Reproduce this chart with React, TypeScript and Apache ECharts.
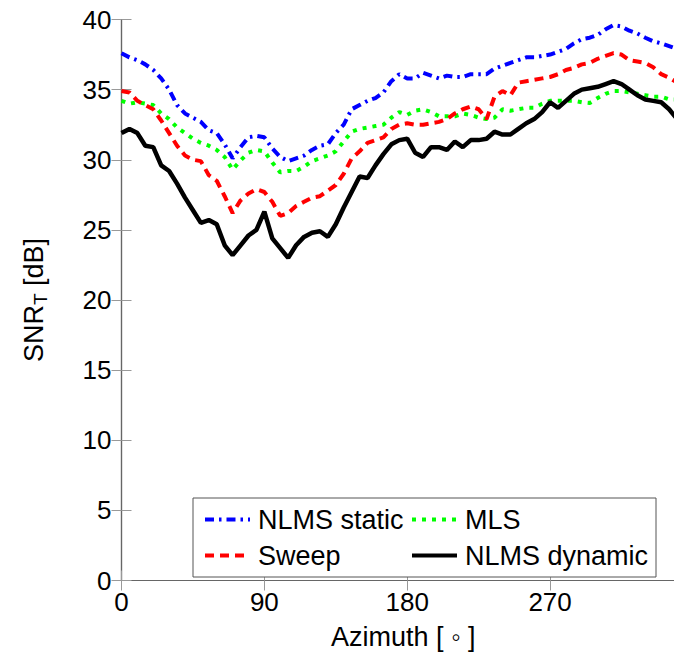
import React, { useEffect, useRef } from "react";
import * as echarts from "echarts";

const azimuth = [
  0, 5, 10, 15, 20, 25, 30, 35, 40, 45, 50, 55, 60, 65, 70, 75, 80, 85, 90, 95,
  100, 105, 110, 115, 120, 125, 130, 135, 140, 145, 150, 155, 160, 165, 170, 175,
  180, 185, 190, 195, 200, 205, 210, 215, 220, 225, 230, 235, 240, 245, 250, 255,
  260, 265, 270, 275, 280, 285, 290, 295, 300, 305, 310, 315, 320, 325, 330, 335,
  340, 345, 350, 355,
];

const xTickLabels = ["0", "90", "180", "270"];

const nlmsStatic = [
  37.6, 37.3, 37.1, 36.8, 36.4, 35.8, 35.0, 33.9, 33.3, 33.0,
  32.7, 32.1, 31.9, 31.1, 30.1, 30.9, 31.6, 31.7, 31.6, 30.8,
  30.2, 29.9, 30.1, 30.3, 30.7, 31.0, 31.1, 31.9, 32.5, 33.6,
  33.9, 34.2, 34.4, 34.8, 35.6, 36.1, 35.8, 35.8, 36.2, 36.0,
  35.8, 36.0, 35.9, 35.9, 36.1, 36.1, 36.1, 36.5, 36.7, 36.9,
  37.1, 37.3, 37.3, 37.4, 37.5, 37.7, 37.9, 38.3, 38.6, 38.7,
  38.9, 39.3, 39.6, 39.5, 39.2, 39.0, 38.7, 38.45, 38.3, 38.1,
  37.9, 37.8,
];

const mls = [
  34.2, 34.0, 34.1, 34.0, 33.9, 33.3, 32.9, 32.3, 31.9, 31.5,
  31.2, 31.0, 30.7, 30.2, 29.3, 29.95, 30.5, 30.7, 30.6, 29.8,
  29.1, 29.2, 29.2, 29.5, 29.9, 30.1, 30.3, 30.6, 31.3, 32.0,
  32.2, 32.3, 32.4, 32.5, 33.0, 33.4, 33.2, 33.5, 33.6, 33.4,
  33.1, 33.1, 33.1, 33.3, 33.2, 33.0, 32.9, 33.0, 33.6, 33.5,
  33.6, 33.7, 33.7, 34.0, 34.2, 34.2, 34.2, 34.2, 34.1, 34.05,
  34.4, 34.7, 34.9, 34.9, 34.8, 34.7, 34.6, 34.5, 34.5, 34.3,
  34.3, 34.2,
];

const sweep = [
  34.9, 34.8, 34.2, 33.9, 33.6, 32.8, 31.9, 31.0, 30.3, 30.0,
  29.9, 28.9, 28.5, 27.4, 26.2, 27.1, 27.6, 27.9, 27.7, 27.0,
  26.0, 26.2, 26.7, 27.0, 27.3, 27.4, 27.8, 28.2, 29.0, 30.1,
  30.6, 31.2, 31.4, 31.6, 32.2, 32.5, 32.6, 32.5, 32.5, 32.6,
  32.7, 32.9, 33.3, 33.6, 33.8, 33.6, 32.9, 34.5, 34.9, 34.6,
  35.5, 35.6, 35.7, 35.8, 35.9, 36.1, 36.4, 36.55, 36.8, 36.9,
  37.2, 37.4, 37.6, 37.5, 37.1, 37.0, 36.9, 36.6, 36.1, 35.85,
  35.5, 35.2,
];

const nlmsDynamic = [
  31.9, 32.2, 31.9, 31.0, 30.9, 29.6, 29.2, 28.3, 27.3, 26.4,
  25.5, 25.7, 25.4, 23.9, 23.2, 23.9, 24.6, 25.0, 26.3, 24.4,
  23.7, 23.0, 23.9, 24.5, 24.8, 24.9, 24.5, 25.4, 26.6, 27.7,
  28.8, 28.7, 29.6, 30.4, 31.1, 31.4, 31.5, 30.5, 30.2, 30.9,
  30.9, 30.7, 31.3, 30.9, 31.4, 31.4, 31.5, 32.0, 31.8, 31.8,
  32.2, 32.6, 32.9, 33.4, 34.1, 33.7, 34.2, 34.7, 35.0, 35.1,
  35.2, 35.4, 35.6, 35.4, 35.0, 34.6, 34.3, 34.2, 34.1, 33.6,
  32.9, 32.4,
];

const seriesNames = ["NLMS static", "MLS", "Sweep", "NLMS dynamic"];

export default function App() {
  const ref = useRef<HTMLDivElement>(null);

  useEffect(() => {
    if (!ref.current) return;
    const chart = echarts.init(ref.current, null, { renderer: "svg" });
    const font = "'Liberation Sans', Arial, Helvetica, sans-serif";
    const pair = (ys: number[]) => azimuth.map((x, i) => [x, ys[i]]);
    const axisLineStyle = { color: "#666", width: 1.2 };
    const tickStyle = { color: "#999", width: 1 };
    const labelStyle = { fontSize: 26, color: "#000", fontFamily: font };

    const legendBase = {
      orient: "vertical",
      top: 506,
      padding: 0,
      itemWidth: 45,
      itemHeight: 26,
      itemGap: 9,
      selectedMode: false,
      lineStyle: { width: 4 },
      itemStyle: { color: "rgba(0,0,0,0)", borderWidth: 0, opacity: 0 },
      textStyle: { fontSize: 27, color: "#000", fontFamily: font, lineHeight: 26, padding: [0, 0, 0, 3] },
    };

    chart.setOption({
      animation: false,
      backgroundColor: "#fff",
      textStyle: { fontFamily: font },
      grid: { left: 121.5, right: 15, top: 19.5, bottom: 80.5, containLabel: false },
      xAxis: [
        {
          type: "value",
          position: "bottom",
          min: 0,
          max: 355,
          interval: 90,
          name: "Azimuth [ \u25E6 ]",
          nameLocation: "middle",
          nameGap: 43,
          nameTextStyle: { ...labelStyle, fontSize: 27, lineHeight: 26 },
          axisLine: { show: true, lineStyle: axisLineStyle },
          axisTick: { show: true, inside: true, length: 10, lineStyle: tickStyle },
          axisLabel: {
            ...labelStyle,
            margin: 8,
            formatter: (v: number) => (xTickLabels.includes(String(v)) ? String(v) : ""),
          },
          splitLine: { show: false },
        },
        {
          type: "value",
          position: "top",
          min: 0,
          max: 355,
          interval: 90,
          axisLine: { show: true, lineStyle: axisLineStyle },
          axisTick: { show: true, inside: true, length: 10, lineStyle: tickStyle },
          axisLabel: { show: false },
          splitLine: { show: false },
        },
      ],
      yAxis: [
        {
          type: "value",
          position: "left",
          min: 0,
          max: 40,
          interval: 5,
          name: "{a|SNR}{b|T}{a| [dB]}",
          nameLocation: "middle",
          nameGap: 72,
          nameTextStyle: {
            rich: {
              a: { fontSize: 27, color: "#000", fontFamily: font, lineHeight: 32 },
              b: { fontSize: 19, color: "#000", fontFamily: font, lineHeight: 20, verticalAlign: "bottom" },
            },
          },
          axisLine: { show: true, lineStyle: axisLineStyle },
          axisTick: { show: true, inside: true, length: 10, lineStyle: tickStyle },
          axisLabel: { ...labelStyle, margin: 10 },
          splitLine: { show: false },
        },
        {
          type: "value",
          position: "right",
          min: 0,
          max: 40,
          interval: 5,
          axisLine: { show: true, lineStyle: axisLineStyle },
          axisTick: { show: true, inside: true, length: 10, lineStyle: tickStyle },
          axisLabel: { show: false },
          splitLine: { show: false },
        },
      ],
      legend: [
        { ...legendBase, left: 203, data: [seriesNames[0], seriesNames[2]] },
        { ...legendBase, left: 410, data: [seriesNames[1], seriesNames[3]] },
      ],
      graphic: [
        {
          type: "rect",
          z: 3,
          shape: { x: 193, y: 498, width: 463, height: 79 },
          style: { fill: "#fff", stroke: "#555", lineWidth: 1 },
        },
      ],
      series: [
        {
          name: seriesNames[0],
          type: "line",
          data: pair(nlmsStatic),
          symbol: "none",
          itemStyle: { color: "#0000ff" },
          lineStyle: { color: "#0000ff", width: 4, type: [9, 5, 2.5, 5] },
          z: 2,
        },
        {
          name: seriesNames[1],
          type: "line",
          data: pair(mls),
          symbol: "none",
          itemStyle: { color: "#00ff00" },
          lineStyle: { color: "#00ff00", width: 4, type: [4, 6] },
          z: 2,
        },
        {
          name: seriesNames[2],
          type: "line",
          data: pair(sweep),
          symbol: "none",
          itemStyle: { color: "#ff0000" },
          lineStyle: { color: "#ff0000", width: 4, type: [9, 6] },
          z: 2,
        },
        {
          name: seriesNames[3],
          type: "line",
          data: pair(nlmsDynamic),
          symbol: "none",
          itemStyle: { color: "#000000" },
          lineStyle: { color: "#000000", width: 4.5 },
          z: 2,
        },
      ],
    });
    return () => chart.dispose();
  }, []);

  return (
    <div
      style={{
        position: "fixed",
        left: 0,
        top: 0,
        width: 674,
        height: 661,
        overflow: "hidden",
        background: "#fff",
      }}
    >
      <div ref={ref} style={{ width: 700, height: 661 }} />
    </div>
  );
}
